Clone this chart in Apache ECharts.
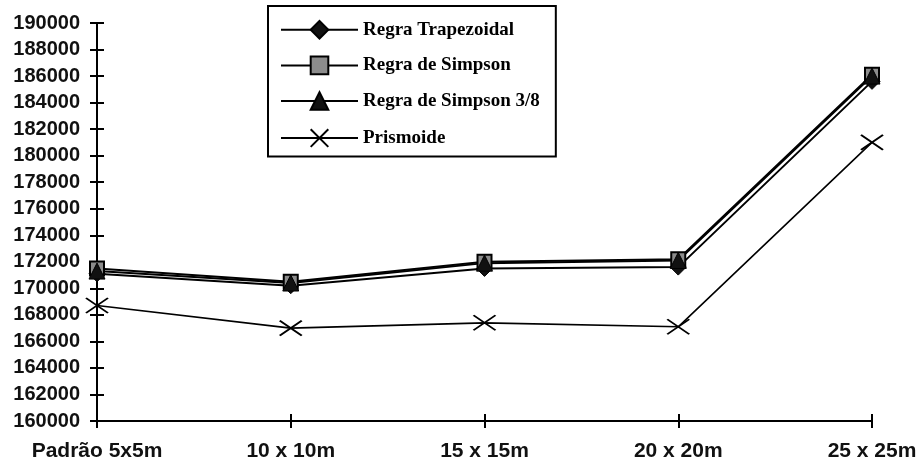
<!DOCTYPE html>
<html>
<head>
<meta charset="utf-8">
<script src="https://cdn.jsdelivr.net/npm/echarts@6/dist/echarts.min.js"></script>
<style>
  html, body { margin: 0; padding: 0; background: #fff; }
  #chart { width: 921px; height: 469px; }
</style>
</head>
<body>
<div id="chart"></div>
<script>
// Malhas de cálculo (eixo x)
const categories = ['Padrão 5x5m', '10 x 10m', '15 x 15m', '20 x 20m', '25 x 25m'];

// Volumes calculados por cada método
const trapezoidal = [171100, 170200, 171500, 171600, 185600];
const simpson = [171500, 170500, 172000, 172200, 186100];
const simpson38 = [171300, 170400, 171900, 172100, 186000];
const prismoide = [168700, 167000, 167400, 167100, 181000];

const seriesNames = ['Regra Trapezoidal', 'Regra de Simpson', 'Regra de Simpson 3/8', 'Prismoide'];

const yMin = 160000, yMax = 190000, yStep = 2000;

const crossSymbol = 'path://M0,0L20,14M20,0L0,14';

const chart = echarts.init(document.getElementById('chart'), null, { renderer: 'canvas' });

const axisFont = { fontFamily: 'Liberation Sans, Arial, sans-serif', fontWeight: 'bold', color: '#111' };

const grid = { left: 97, right: 49, top: 23, bottom: 48 };

function lineSeries(name, data, symbol, size, itemStyle, width) {
  return {
    name, type: 'line', data, symbol, symbolSize: size,
    showSymbol: true, animation: false, xAxisIndex: 0, yAxisIndex: 0,
    lineStyle: { color: '#000', width: width },
    itemStyle: itemStyle,
    z: 3
  };
}

chart.setOption({
  animation: false,
  backgroundColor: '#fff',
  grid: grid,
  legend: {
    orient: 'vertical',
    left: 268, top: 6,
    padding: [14, 16, 7, 12],
    itemWidth: 77, itemHeight: 22, itemGap: 16,
    borderColor: '#000', borderWidth: 2,
    textStyle: { fontFamily: 'Liberation Serif, Times New Roman, serif', fontWeight: 'bold', fontSize: 19, color: '#000' },
    data: seriesNames
  },
  xAxis: [{
    type: 'category', data: categories, boundaryGap: false,
    axisLine: { lineStyle: { color: '#000', width: 2 } },
    axisTick: { alignWithLabel: true, length: 7, lineStyle: { color: '#000', width: 2 } },
    axisLabel: Object.assign({ fontSize: 21, margin: 20 }, axisFont),
    splitLine: { show: false }
  }, {
    type: 'category', data: categories, boundaryGap: false, position: 'bottom',
    axisLine: { show: false },
    axisTick: { inside: true, length: 7, lineStyle: { color: '#000', width: 2 } },
    axisLabel: { show: false }, splitLine: { show: false }
  }],
  yAxis: [{
    type: 'value', min: yMin, max: yMax, interval: yStep,
    axisLine: { show: true, lineStyle: { color: '#000', width: 2 } },
    axisTick: { show: true, length: 7, lineStyle: { color: '#000', width: 2 } },
    axisLabel: Object.assign({ fontSize: 20, margin: 17, formatter: v => String(v) }, axisFont),
    splitLine: { show: false }
  }, {
    type: 'value', min: yMin, max: yMax, interval: yStep, position: 'left',
    axisLine: { show: false },
    axisTick: { show: true, inside: true, length: 7, lineStyle: { color: '#000', width: 2 } },
    axisLabel: { show: false }, splitLine: { show: false }
  }],
  series: [
    lineSeries(seriesNames[0], trapezoidal, 'diamond', 16, { color: '#111', borderColor: '#000', borderWidth: 1 }, 2),
    lineSeries(seriesNames[1], simpson, 'rect', 14, { color: '#8c8c8c', borderColor: '#000', borderWidth: 2 }, 2),
    lineSeries(seriesNames[2], simpson38, 'triangle', 16, { color: '#111', borderColor: '#000', borderWidth: 1 }, 2),
    lineSeries(seriesNames[3], prismoide, crossSymbol, [22, 15], { color: 'none', borderColor: '#000', borderWidth: 1.8 }, 1.6)
  ]
});
</script>
</body>
</html>
